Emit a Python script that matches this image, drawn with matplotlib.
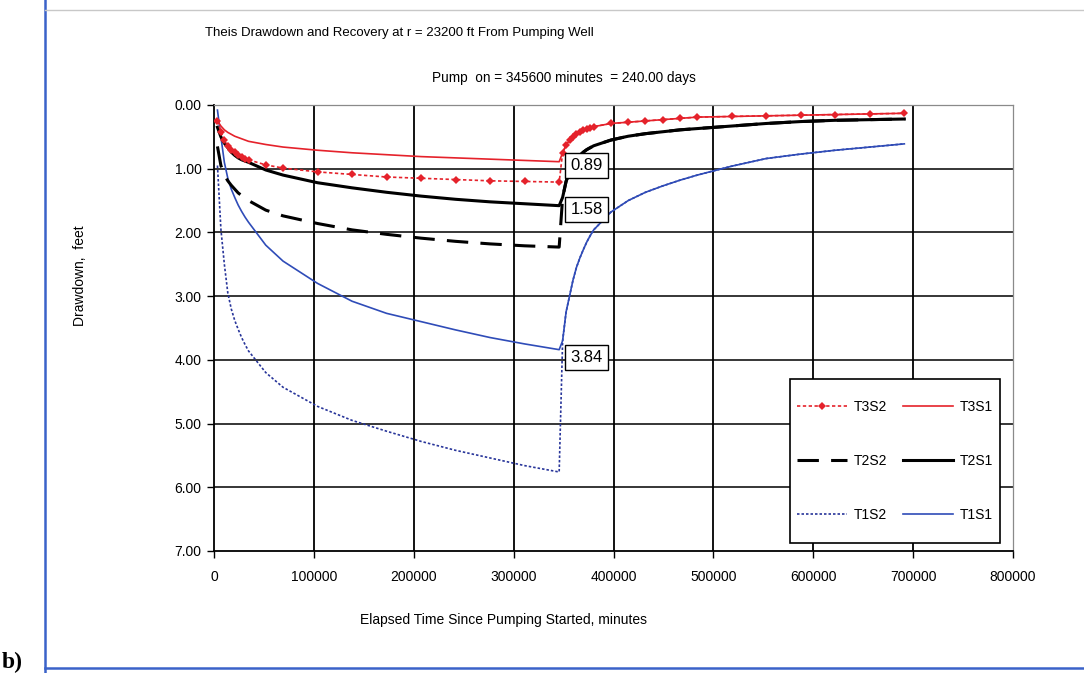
import matplotlib
matplotlib.use("Agg")
import matplotlib.pyplot as plt
from matplotlib.lines import Line2D
from matplotlib.patches import Rectangle

plt.rcParams['font.family'] = ['Liberation Sans', 'DejaVu Sans']

# ---- data (elapsed time, minutes) ----
time_min = [3456, 6912, 10368, 13824, 17280, 20736, 24192, 27648, 31104, 34560,
            51840, 69120, 103680, 138240, 172800, 207360, 241920, 276480, 311040, 345600,
            349056, 352512, 355968, 359424, 362880, 366336, 369792, 373248, 376704, 380160,
            397440, 414720, 432000, 449280, 466560, 483840, 518400, 552960, 587520, 622080,
            656640, 691200]

t3_recovery = [0.75, 0.63, 0.55, 0.50, 0.46, 0.42, 0.40, 0.38, 0.36, 0.34, 0.29,
               0.27, 0.25, 0.23, 0.21, 0.19, 0.18, 0.17, 0.16, 0.15, 0.14, 0.13]
t2_recovery = [1.45, 1.20, 1.05, 0.93, 0.85, 0.79, 0.74, 0.70, 0.67, 0.64, 0.55,
               0.49, 0.45, 0.42, 0.39, 0.37, 0.33, 0.29, 0.26, 0.24, 0.23, 0.22]
t1_recovery = [3.70, 3.25, 3.00, 2.75, 2.55, 2.40, 2.27, 2.15, 2.05, 1.96, 1.68,
               1.50, 1.37, 1.27, 1.18, 1.10, 0.96, 0.84, 0.77, 0.71, 0.66, 0.61]

T3S2 = [0.25, 0.42, 0.55, 0.64, 0.70, 0.74, 0.78, 0.81, 0.84, 0.86,
        0.94, 0.99, 1.05, 1.09, 1.13, 1.15, 1.17, 1.19, 1.20, 1.21] + t3_recovery
T3S1 = [0.25, 0.33, 0.39, 0.43, 0.46, 0.49, 0.51, 0.53, 0.55, 0.57,
        0.62, 0.66, 0.71, 0.75, 0.78, 0.81, 0.83, 0.85, 0.87, 0.89] + t3_recovery
T2S2 = [0.65, 0.95, 1.10, 1.19, 1.26, 1.32, 1.38, 1.42, 1.46, 1.50,
        1.65, 1.74, 1.86, 1.96, 2.03, 2.09, 2.14, 2.18, 2.21, 2.23] + t2_recovery
T2S1 = [0.35, 0.50, 0.60, 0.67, 0.74, 0.79, 0.83, 0.86, 0.88, 0.90,
        1.02, 1.10, 1.22, 1.30, 1.37, 1.43, 1.48, 1.52, 1.55, 1.58] + t2_recovery
T1S2 = [0.95, 1.95, 2.50, 2.95, 3.20, 3.38, 3.52, 3.65, 3.76, 3.86,
        4.20, 4.43, 4.73, 4.95, 5.12, 5.28, 5.42, 5.54, 5.66, 5.76] + t1_recovery
T1S1 = [0.08, 0.50, 0.90, 1.15, 1.32, 1.45, 1.57, 1.67, 1.76, 1.84,
        2.20, 2.45, 2.80, 3.08, 3.27, 3.40, 3.53, 3.65, 3.75, 3.84] + t1_recovery

pump_off = 345600
labelled = [T3S1, T2S1, T1S1]

x_ticks = [0, 100000, 200000, 300000, 400000, 500000, 600000, 700000, 800000]
y_ticks = [0, 1, 2, 3, 4, 5, 6, 7]

RED = '#e5222b'
BLUE = '#2f4cb8'
NAVY = '#28359a'

W, H = 1084, 673
fig = plt.figure(figsize=(W / 100, H / 100), dpi=100)
ax = fig.add_axes([214 / W, 1 - 551 / H, (1013 - 214) / W, (551 - 105) / H])

ax.set_xlim(x_ticks[0], x_ticks[-1])
ax.set_ylim(y_ticks[-1], y_ticks[0])
ax.set_xticks(x_ticks)
ax.set_yticks(y_ticks)
ax.set_xticklabels([f"{v:d}" for v in x_ticks], fontsize=10)
ax.set_yticklabels([f"{v:.2f}" for v in y_ticks], fontsize=10)
ax.tick_params(direction='out', length=5, width=1.0, color='black', pad=4)
ax.tick_params(axis='x', pad=9)

for v in y_ticks[1:-1]:
    ax.axhline(v, color='black', lw=1.1, zorder=1)
for v in x_ticks[1:-1]:
    ax.axvline(v, color='black', lw=1.3, zorder=1)

for s in ['left', 'bottom']:
    ax.spines[s].set_color('black')
    ax.spines[s].set_linewidth(1.3)
for s in ['top', 'right']:
    ax.spines[s].set_color('#8a8a8a')
    ax.spines[s].set_linewidth(0.9)

h_t1s2, = ax.plot(time_min, T1S2, color=NAVY, lw=1.2, ls=(0, (1.5, 1.2)), zorder=3, label='T1S2')
h_t1s1, = ax.plot(time_min, T1S1, color=BLUE, lw=1.2, ls='-', zorder=3, label='T1S1')
h_t2s1, = ax.plot(time_min, T2S1, color='black', lw=2.2, ls='-', zorder=4, label='T2S1')
h_t2s2, = ax.plot(time_min, T2S2, color='black', lw=2.2, ls=(0, (7, 4)), zorder=4, label='T2S2')
h_t3s1, = ax.plot(time_min, T3S1, color=RED, lw=1.2, ls='-', zorder=5, label='T3S1')
h_t3s2, = ax.plot(time_min, T3S2, color=RED, lw=1.2, ls=(0, (2, 1.5)), marker='D',
                  markersize=4.5, markeredgewidth=0, zorder=6, label='T3S2')

i_off = time_min.index(pump_off)
offsets = [(8, -3), (8, -3), (8, -6)]
for series, off in zip(labelled, offsets):
    v = series[i_off]
    ax.annotate(f"{v:.2f}", xy=(pump_off, v), xytext=off, textcoords='offset points',
                ha='left', va='center', fontsize=12, zorder=10,
                bbox=dict(boxstyle='square,pad=0.3', fc='white', ec='black', lw=1.0))

# legend box (frame drawn separately for asymmetric padding)
lx0, lx1 = (790 - 214) / 799, (1000 - 214) / 799
ly0, ly1 = (551 - 543) / 446, (551 - 379) / 446
ax.add_patch(Rectangle((lx0, ly0), lx1 - lx0, ly1 - ly0, transform=ax.transAxes,
                       fc='white', ec='black', lw=1.2, zorder=8))
leg = ax.legend(handles=[h_t3s2, h_t2s2, h_t1s2, h_t3s1, h_t2s1, h_t1s1],
                ncol=2, loc='center', bbox_to_anchor=((lx0 + lx1) / 2, (ly0 + ly1) / 2),
                fontsize=10, frameon=False, labelspacing=2.9,
                borderpad=0, handlelength=3.6, handletextpad=0.5,
                columnspacing=1.1, numpoints=1, borderaxespad=0)
leg.set_zorder(9)

fig.text(205 / W, 1 - 33 / H, "Theis Drawdown and Recovery at r = 23200 ft From Pumping Well",
         fontsize=9.5, ha='left', va='center')
fig.text(432 / W, 1 - 78 / H, "Pump  on = 345600 minutes  = 240.00 days",
         fontsize=9.8, ha='left', va='center')
fig.text(80 / W, 1 - 276 / H, "Drawdown,  feet", rotation=90, fontsize=10,
         ha='center', va='center')
fig.text(503 / W, 1 - 620 / H, "Elapsed Time Since Pumping Started, minutes",
         fontsize=10, ha='center', va='center')
fig.text(2 / W, 1 - 662 / H, "b)", fontsize=17, fontweight='bold',
         family=['Liberation Serif', 'DejaVu Serif'], ha='left', va='center')

fig.add_artist(Line2D([45 / W, 45 / W], [0, 1], transform=fig.transFigure,
                      color='#3b62c9', lw=1.8))
fig.add_artist(Line2D([45 / W, 1], [1 - 668 / H, 1 - 668 / H], transform=fig.transFigure,
                      color='#3b62c9', lw=1.8))
fig.add_artist(Line2D([45 / W, 1], [1 - 10 / H, 1 - 10 / H], transform=fig.transFigure,
                      color='#c8c8c8', lw=1.0))

fig.savefig("out.png", dpi=100)
